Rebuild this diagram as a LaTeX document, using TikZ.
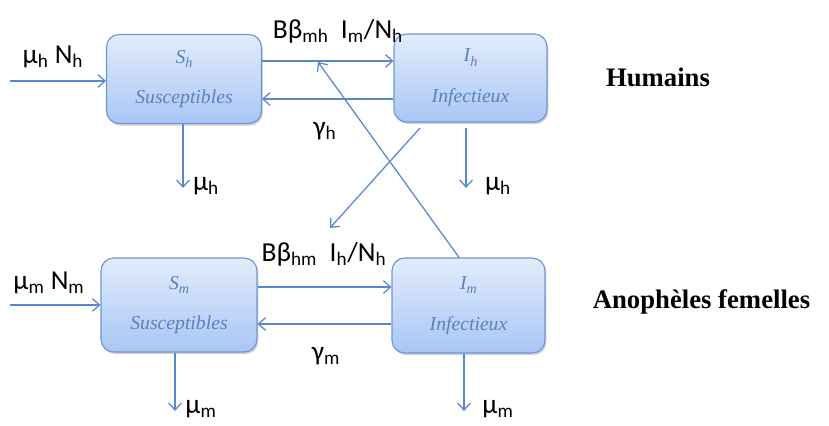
\documentclass[tikz,border=0pt]{standalone}
\usepackage{fontspec}
\setmainfont{Liberation Serif}
\newfontfamily\lab{Carlito}
\usetikzlibrary{arrows.meta,shadows,calc}
\definecolor{lineblue}{HTML}{5A88CC}
\definecolor{boxtop}{HTML}{E2ECFC}
\definecolor{boxbot}{HTML}{A9C6F5}
\definecolor{boxline}{HTML}{6E96D2}
\definecolor{boxtext}{HTML}{5A80C0}
\newcommand{\bsub}[1]{\raisebox{-3pt}{\fontsize{10}{10}\selectfont #1}}
\begin{document}
\begin{tikzpicture}[x=0.025cm,y=-0.025cm,
  box/.style={draw=boxline,line width=0.8pt,rounded corners=9pt,
    top color=boxtop,bottom color=boxbot,
    drop shadow={shadow xshift=1pt,shadow yshift=-1.5pt,opacity=0.35,fill=gray},
    align=center,text=boxtext,font=\fontsize{14}{16}\selectfont\itshape,inner sep=0pt},
  arr/.style={draw=lineblue,line width=0.9pt,-{Straight Barb[length=5pt,width=9pt]}},
  lbl/.style={font=\lab\fontsize{19.5}{21}\selectfont,inner sep=0pt},
  grp/.style={font=\fontsize{19}{21}\selectfont\bfseries,inner sep=0pt}]
\useasboundingbox (0,0) rectangle (829,426);
% boxes
\node[box,minimum width=155*0.025cm,minimum height=89*0.025cm] (Sh) at (184,79)
  {S\bsub{h}\\[13pt]Susceptibles};
\node[box,minimum width=153*0.025cm,minimum height=88*0.025cm] (Ih) at (470.5,78)
  {I\bsub{h}\\[13pt]Infectieux};
\node[box,minimum width=156*0.025cm,minimum height=94*0.025cm] (Sm) at (179,305)
  {S\bsub{m}\\[13pt]Susceptibles};
\node[box,minimum width=153*0.025cm,minimum height=95*0.025cm] (Im) at (468.5,305.5)
  {I\bsub{m}\\[13pt]Infectieux};
% free-end coordinates
\coordinate (inh) at (10,81);
\coordinate (inm) at (10,305);
\coordinate (dSh) at (183,188);
\coordinate (dIh) at (466,188);
\coordinate (dSm) at (175,411);
\coordinate (dIm) at (464,411);
\coordinate (tipA) at (330,228);
\coordinate (tipB) at (318,62);
\coordinate (srcA) at (420,128);
% humans
\draw[arr] (inh) -- (Sh.west |- inh);
\draw[arr] (Sh.east |- 0,61) -- (Ih.west |- 0,61);
\draw[arr] (Ih.west |- 0,99) -- (Sh.east |- 0,99);
\draw[arr] (Sh.south -| dSh) -- (dSh);
\draw[arr] ([yshift=-4pt]Ih.south -| dIh) -- (dIh);
% mosquitoes
\draw[arr] (inm) -- (Sm.west |- inm);
\draw[arr] (Sm.east |- 0,287) -- (Im.west |- 0,287);
\draw[arr] (Im.west |- 0,324) -- (Sm.east |- 0,324);
\draw[arr] (Sm.south -| dSm) -- (dSm);
\draw[arr] (Im.south -| dIm) -- (dIm);
% cross infection
\draw[arr] (srcA) -- (tipA);
\draw[arr] (Im.north -| 459,0) -- (tipB);
% labels
\node[lbl] (l1) at (53,57) {μ\textsubscript{h} N\textsubscript{h}};
\node[lbl] (l2) at (338,31) {Bβ\textsubscript{mh}\ \ I\textsubscript{m}/N\textsubscript{h}};
\node[lbl] (l3) at (325,131) {γ\textsubscript{h}};
\node[lbl] (l4) at (206,186) {μ\textsubscript{h}};
\node[lbl] (l5) at (498,186) {μ\textsubscript{h}};
\node[lbl] (l6) at (49,283) {μ\textsubscript{m} N\textsubscript{m}};
\node[lbl] (l7) at (324,254) {Bβ\textsubscript{hm}\ \ I\textsubscript{h}/N\textsubscript{h}};
\node[lbl] (l8) at (326,356) {γ\textsubscript{m}};
\node[lbl] (l9) at (201,409) {μ\textsubscript{m}};
\node[lbl] (l10) at (498,409) {μ\textsubscript{m}};
\node[grp] (g1) at (658,77) {Humains};
\node[grp] (g2) at (701.5,302) {Anophèles femelles};
\end{tikzpicture}
\end{document}
